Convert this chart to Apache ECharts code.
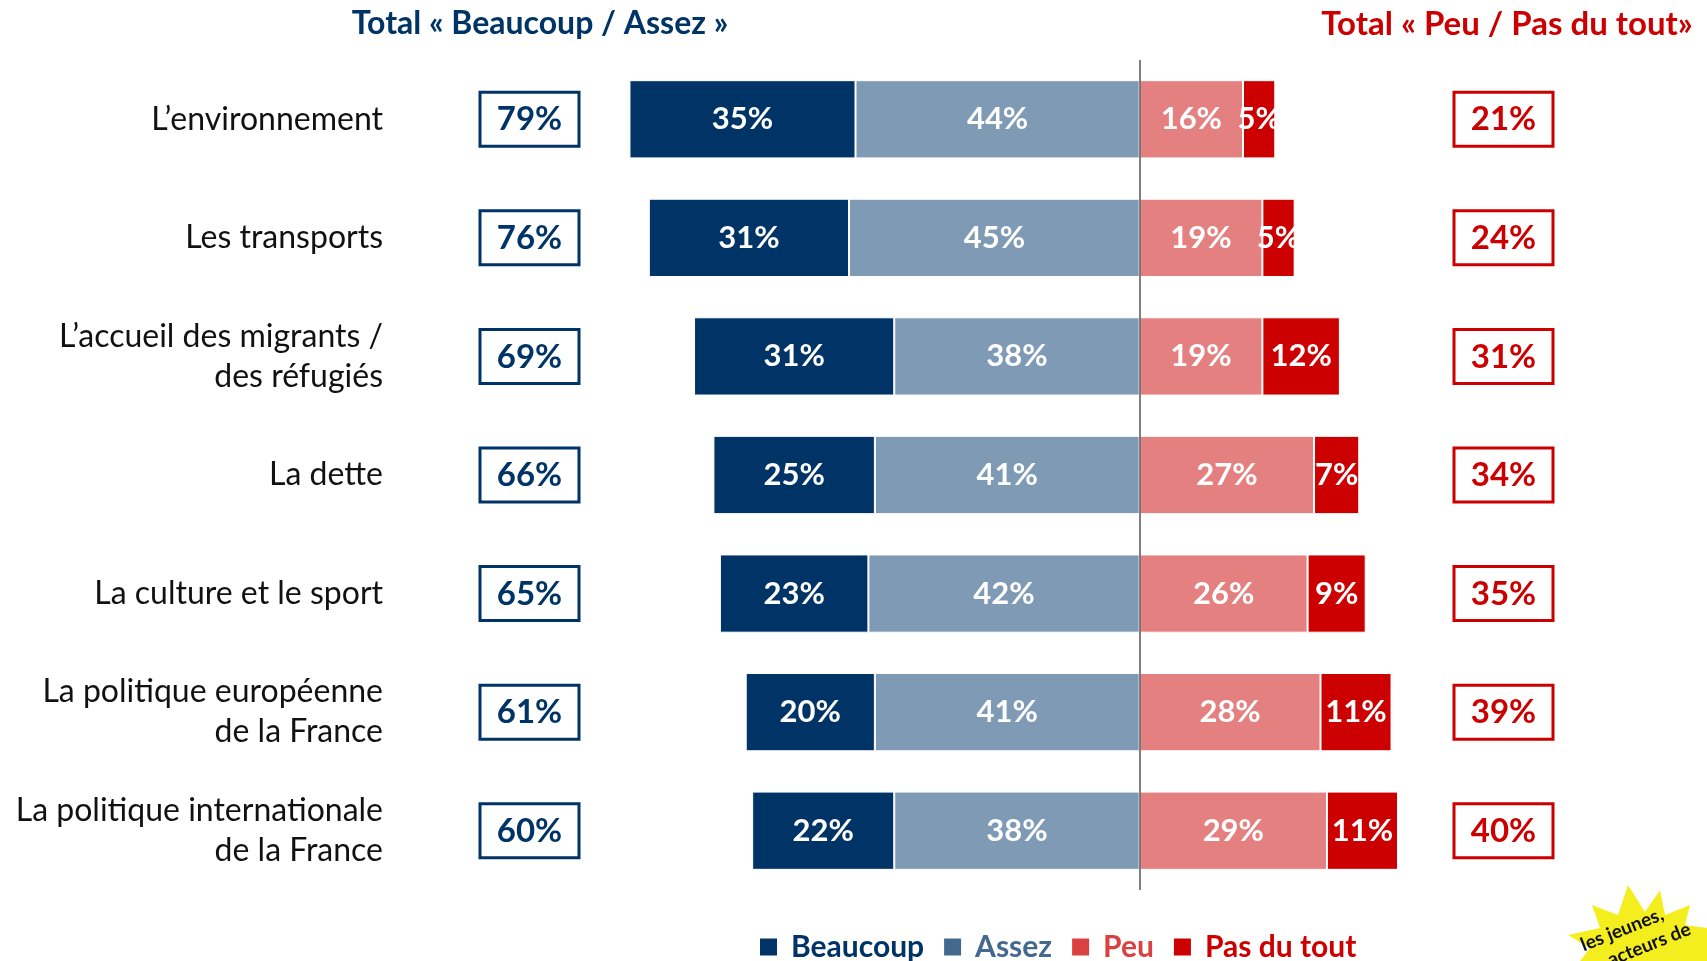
<!DOCTYPE html>
<html><head><meta charset="utf-8">
<script src="https://cdn.jsdelivr.net/npm/echarts@6/dist/echarts.min.js"></script>
<style>html,body{margin:0;padding:0;background:#fff}#c{width:1707px;height:961px}</style>
</head><body><div id="c"></div>
<script>
var categories = ['L’environnement','Les transports','L’accueil des migrants /\ndes réfugiés','La dette','La culture et le sport','La politique européenne\nde la France','La politique internationale\nde la France'];
var beaucoup = [35,31,31,25,23,20,22];
var assez = [44,45,38,41,42,41,38];
var peu = [16,19,19,27,26,28,29];
var pasDuTout = [5,5,12,7,9,11,11];
var totalPositive = [79,76,69,66,65,61,60];
var totalNegative = [21,24,31,34,35,39,40];

var NAVY = '#003466', ASSEZ = '#7F9AB4', PEU = '#E48080', RED = '#CC0000';
var FONT = 'Lato';
var chart = echarts.init(document.getElementById('c'));
function lbl(){ return {show:true, color:'#fff', fontFamily:FONT, fontWeight:'bold', fontSize:31,
  formatter:function(p){return Math.abs(p.value)+'%';}}; }
function boxAxis(color){
  return {show:true, fontFamily:FONT, formatter:function(v){return '{b|'+v+'}';},
    rich:{b:{width:99,height:53,lineHeight:53,padding:[1,0,0,0],align:'center',color:color,fontFamily:FONT,fontWeight:'bold',fontSize:33,borderColor:color,borderWidth:3}}};
}
chart.setOption({
  animation:false,
  textStyle:{fontFamily:FONT},
  title:[
    {text:'Total « Beaucoup / Assez »', left:535, top:3, textAlign:'center', textStyle:{color:NAVY,fontFamily:FONT,fontWeight:'bold',fontSize:32}},
    {text:'Total « Peu / Pas du tout»', left:1502, top:3, textAlign:'center', textStyle:{color:RED,fontFamily:FONT,fontWeight:'bold',fontSize:33}}
  ],
  legend:{
    bottom:-6, left:753, itemGap:18, itemWidth:19, itemHeight:19, icon:'rect',
    textStyle:{fontFamily:FONT,fontWeight:'bold',fontSize:30, padding:[0,0,0,8]},
    data:[
      {name:'Beaucoup', itemStyle:{color:NAVY}, textStyle:{color:NAVY}},
      {name:'Assez', itemStyle:{color:'#44698F'}, textStyle:{color:'#44698F'}},
      {name:'Peu', itemStyle:{color:'#DA4242'}, textStyle:{color:'#DA4242'}},
      {name:'Pas du tout', itemStyle:{color:RED}, textStyle:{color:RED}}
    ]
  },
  grid:{left:623, right:309, top:60, bottom:71},
  xAxis:{type:'value', min:-80, max:40, show:false},
  yAxis:[
    {type:'category', inverse:true, data:categories, axisLine:{show:false}, axisTick:{show:false},
     axisLabel:{margin:240, color:'#111', fontFamily:FONT, fontSize:32, lineHeight:40, align:'right'}},
    {type:'category', inverse:true, position:'left', data:totalPositive.map(function(v){return v+'%';}),
     axisLine:{show:false}, axisTick:{show:false}, axisLabel:Object.assign(boxAxis(NAVY),{margin:44})},
    {type:'category', inverse:true, position:'right', data:totalNegative.map(function(v){return v+'%';}),
     axisLine:{show:false}, axisTick:{show:false}, axisLabel:Object.assign(boxAxis(RED),{margin:56})}
  ],
  series:[
    {name:'Assez', type:'bar', stack:'a', barWidth:'66%', data:assez.map(function(v){return -v;}),
     itemStyle:{color:ASSEZ,borderColor:'#fff',borderWidth:1}, label:lbl()},
    {name:'Beaucoup', type:'bar', stack:'a', data:beaucoup.map(function(v){return -v;}),
     itemStyle:{color:NAVY,borderColor:'#fff',borderWidth:1}, label:lbl()},
    {name:'Peu', type:'bar', stack:'a', data:peu,
     itemStyle:{color:PEU,borderColor:'#fff',borderWidth:1}, label:lbl(),
     markLine:{silent:true, symbol:'none', label:{show:false}, lineStyle:{color:'#555',type:'solid',width:1.5}, data:[{xAxis:0}]}},
    {name:'Pas du tout', type:'bar', stack:'a', data:pasDuTout,
     itemStyle:{color:RED,borderColor:'#fff',borderWidth:1}, label:lbl()}
  ],
  graphic:[
    {type:'polygon', shape:{points:[[1568,935],[1600,928],[1592,905],[1618,915],[1628,885],[1645,912],[1660,890],[1665,915],[1690,905],[1685,925],[1707,928],[1707,961],[1580,961],[1590,948]]}, style:{fill:'#F5EE1E'}},
    {type:'text', x:1578, y:937, rotation:0.38, style:{text:'les jeunes,', fill:'#111', font:'bold 19px Lato'}},
    {type:'text', x:1605, y:952, rotation:0.38, style:{text:'acteurs de', fill:'#111', font:'bold 19px Lato'}}
  ]
});
</script></body></html>
